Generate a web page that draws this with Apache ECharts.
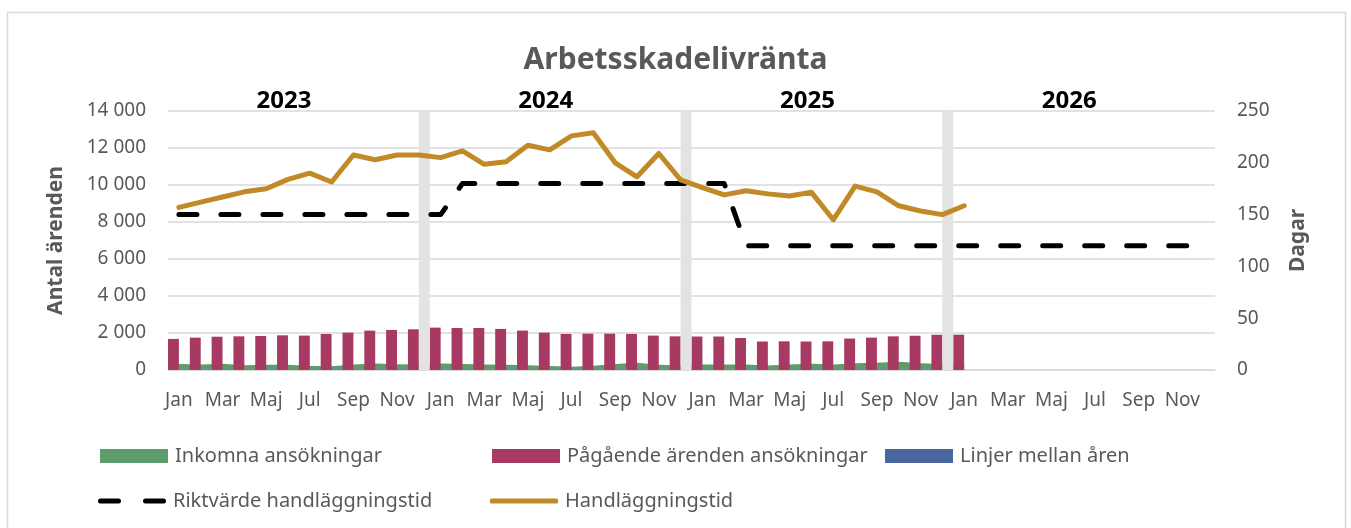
<!DOCTYPE html>
<html>
<head>
<meta charset="utf-8">
<script src="https://cdn.jsdelivr.net/npm/echarts@6/dist/echarts.min.js"></script>
<style>
html,body{margin:0;padding:0;background:#fff;}
#chart{width:1351px;height:528px;}
</style>
</head>
<body>
<div id="chart"></div>
<script>
// ---- data ----
var years = ['2023', '2024', '2025', '2026'];
var months = ['Jan','Feb','Mar','Apr','Maj','Jun','Jul','Aug','Sep','Okt','Nov','Dec'];
var inkomna = [330,300,340,260,280,290,210,200,300,350,310,300,350,330,300,280,260,220,180,230,320,390,290,250,300,300,300,250,300,340,300,360,390,440,360,320,320];
var pagaende = [1680,1750,1800,1820,1840,1875,1860,1950,2020,2130,2165,2200,2290,2270,2270,2220,2130,2020,1950,1965,1965,1950,1860,1820,1810,1810,1730,1540,1550,1540,1550,1700,1750,1820,1850,1905,1910];
var yearLineIdx = [11, 23, 35];
var yearLineValue = 14000;
var handlaggning = [157,162,167,172,175,184,190,181.5,207.5,203,207.5,207.5,205,211.5,198.5,201,217,212.5,226,229,200,186.5,209,183.5,176,169,173,170,168,171.5,145,177.5,172,158.5,153.5,150,158.5];
var riktvarde = [150,150,150,150,150,150,150,150,150,150,150,150,150,
                 180,180,180,180,180,180,180,180,180,180,180,180,180,
                 120,120,120,120,120,120,120,120,120,120,120,120,120,120,120,120,120,120,120,120,120,120];
var leftTicks = [0, 2000, 4000, 6000, 8000, 10000, 12000, 14000];
var rightTicks = [0, 50, 100, 150, 200, 250];

// ---- build ----
var categories = [];
years.forEach(function (y) { months.forEach(function (m) { categories.push(y + ' ' + m); }); });
var yearLineData = categories.map(function (c, i) {
  return yearLineIdx.indexOf(i) >= 0 ? { value: yearLineValue, itemStyle: { color: '#E3E3E3' } } : '-';
});
function fmtThousands(v) { return String(v).replace(/\B(?=(\d{3})+(?!\d))/g, ' '); }

var FONT = 'Noto Sans';
var TXT = '#595959';
var GOLD = '#C28A27';
var chart = echarts.init(document.getElementById('chart'), null, { renderer: 'canvas' });

function legend(name, left, top, icon, color, h) {
  return {
    data: [{ name: name, icon: icon, itemStyle: { color: color } }],
    left: left, top: top, padding: 0,
    itemWidth: 68, itemHeight: h, itemGap: 0,
    textStyle: { fontFamily: FONT, fontSize: 20, color: TXT, padding: [0, 0, 0, 2] },
    selectedMode: false
  };
}

chart.setOption({
  animation: false,
  backgroundColor: '#fff',
  title: {
    text: 'Arbetsskadelivränta', left: 'center', top: 40,
    textStyle: { fontFamily: FONT, fontSize: 30, fontWeight: 'bold', color: TXT }
  },
  graphic: [{
    type: 'rect', silent: true, z: -10,
    shape: { x: 7.5, y: 12.5, width: 1338, height: 540 },
    style: { fill: 'none', stroke: '#D9D9D9', lineWidth: 1.5 }
  }],
  grid: { left: 168, right: 136, top: 111, bottom: 158 },
  legend: [
    legend('Inkomna ansökningar', 100, 446, 'rect', '#5E9C6C', 14),
    legend('Pågående ärenden ansökningar', 492, 446, 'rect', '#A63A62', 14),
    legend('Linjer mellan åren', 885, 446, 'rect', '#4A66A0', 14),
    legend('Riktvärde handläggningstid', 98, 491, 'path://M2.5,0h18a2.5,2.5 0 0 1 0,5h-18a2.5,2.5 0 0 1 0,-5z M47.5,0h18a2.5,2.5 0 0 1 0,5h-18a2.5,2.5 0 0 1 0,-5z', '#000', 5),
    legend('Handläggningstid', 490, 491, 'roundRect', GOLD, 5)
  ],
  xAxis: [{
    type: 'category', data: categories, boundaryGap: true,
    axisLine: { show: true, lineStyle: { color: '#D9D9D9', width: 1.5 } },
    axisTick: { show: false },
    axisLabel: {
      interval: 1, margin: 21,
      fontFamily: FONT, fontSize: 19, color: TXT,
      formatter: function (v) { return v.split(' ')[1]; }
    },
    splitLine: { show: false }
  }, {
    type: 'category', data: categories, position: 'top', boundaryGap: true,
    axisLine: { show: false }, axisTick: { show: false },
    axisLabel: {
      interval: function (i) { return i % 12 === 5; }, margin: -2,
      padding: [0, 8, 0, 0],
      fontFamily: FONT, fontSize: 24, fontWeight: 'bold', color: '#000',
      formatter: function (v) { return v.split(' ')[0]; }
    }
  }],
  yAxis: [{
    type: 'value', min: leftTicks[0], max: leftTicks[leftTicks.length - 1], interval: 2000,
    name: 'Antal ärenden', nameLocation: 'middle', nameGap: 101, nameRotate: 90,
    nameTextStyle: { fontFamily: FONT, fontSize: 21, fontWeight: 'bold', color: TXT },
    axisLine: { show: false }, axisTick: { show: false },
    axisLabel: { margin: 22, fontFamily: FONT, fontSize: 19, color: TXT, formatter: fmtThousands },
    splitLine: { lineStyle: { color: '#D9D9D9', width: 1.5 } }
  }, {
    type: 'value', min: rightTicks[0], max: rightTicks[rightTicks.length - 1], interval: 50,
    name: 'Dagar', nameLocation: 'middle', nameGap: 73, nameRotate: 90,
    nameTextStyle: { fontFamily: FONT, fontSize: 21, fontWeight: 'bold', color: TXT },
    axisLine: { show: false }, axisTick: { show: false },
    axisLabel: { margin: 22, fontFamily: FONT, fontSize: 19, color: TXT },
    splitLine: { show: false }
  }],
  series: [{
    name: 'Inkomna ansökningar', type: 'line', data: inkomna,
    symbol: 'none', lineStyle: { width: 0 }, areaStyle: { color: '#5E9C6C', opacity: 1 },
    itemStyle: { color: '#5E9C6C' }, z: 1
  }, {
    name: 'Pågående ärenden ansökningar', type: 'bar', data: pagaende,
    barGap: '0%', barCategoryGap: '0%',
    itemStyle: { color: '#A63A62' }, z: 2
  }, {
    name: 'Linjer mellan åren', type: 'bar', data: yearLineData,
    barGap: '0%', barCategoryGap: '0%',
    itemStyle: { color: '#4A66A0' }, z: 2
  }, {
    name: 'Riktvärde handläggningstid', type: 'line', yAxisIndex: 1, data: riktvarde,
    symbol: 'none', itemStyle: { color: '#000' },
    lineStyle: { color: '#000', width: 5, type: [18, 24], cap: 'round', join: 'round' }, z: 4
  }, {
    name: 'Handläggningstid', type: 'line', yAxisIndex: 1, data: handlaggning,
    symbol: 'none', itemStyle: { color: GOLD },
    lineStyle: { color: GOLD, width: 5, cap: 'round', join: 'round' }, z: 5
  }]
});
</script>
</body>
</html>
